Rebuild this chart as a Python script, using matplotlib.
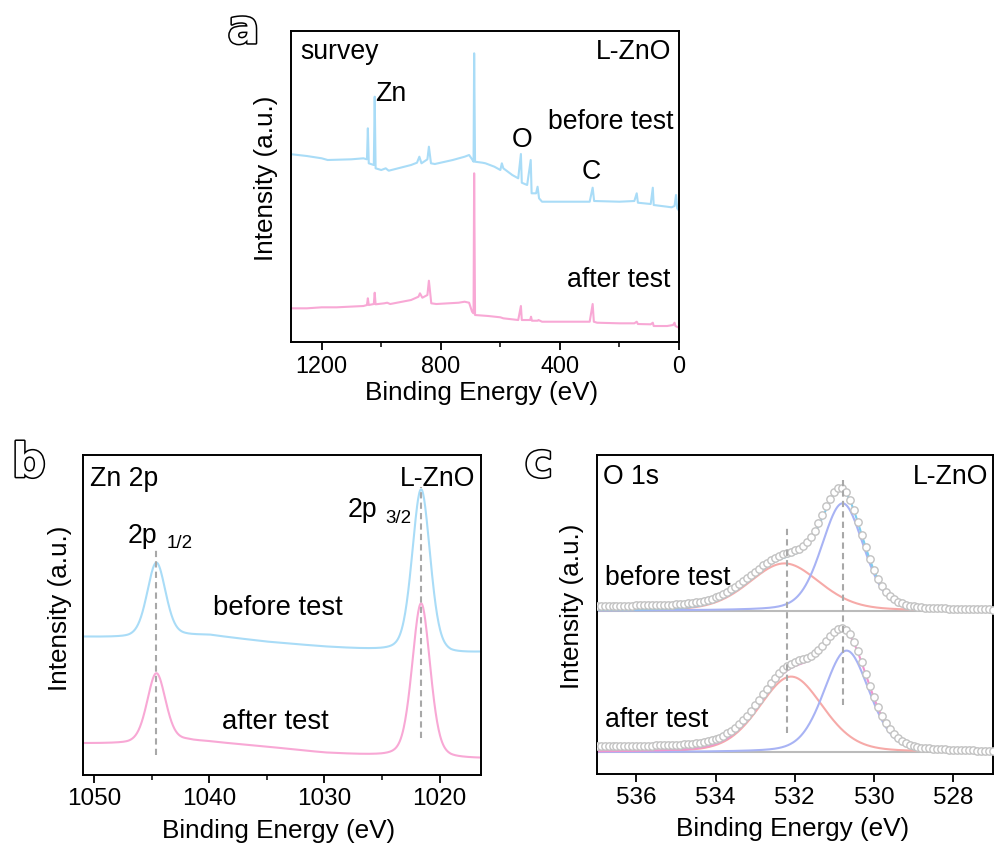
import numpy as np
import matplotlib
matplotlib.use("Agg")
import matplotlib.pyplot as plt
import matplotlib.patheffects as pe
from matplotlib.ticker import MultipleLocator

plt.rcParams["font.family"] = ["Liberation Sans", "DejaVu Sans"]

BLUE = "#a9dcf7"
PINK = "#f8a8d5"
FIT_RED = "#f6aaa8"
FIT_BLUE = "#a8b3f4"
ENV_BLUE = "#7fcdf0"
ENV_PINK = "#f096cf"
GUIDE = "#a8a8a8"

TICK_FS = 17.5
LABEL_FS = 18.8
NOTE_FS = 19.2

# ---- a: survey spectra (binding energy eV, intensity a.u.)
survey_before_energy = [1300, 1250, 1200, 1180, 1100, 1060, 1048, 1045, 1042, 1025, 1022, 1019,
                        1000, 985, 975, 900, 880, 872, 865, 845, 840, 833, 820, 760, 720, 705,
                        695, 690, 688, 685, 660, 650, 620, 600, 595, 590, 560, 540, 531, 528,
                        510, 498, 495, 480, 475, 470, 460, 300, 290, 285, 200, 150, 142, 138,
                        95, 88, 85, 40, 25, 15, 10, 6, 0]
survey_before_intensity = [187.7, 186.0, 183.7, 182.0, 182.7, 183.7, 182.7, 213.7, 178.7, 177.0,
                           245.3, 173.7, 172.0, 173.7, 171.3, 177.0, 179.3, 185.3, 178.7, 182.7,
                           195.3, 178.7, 178.0, 182.0, 185.3, 187.0, 182.7, 180.3, 288.7, 180.3,
                           179.3, 178.7, 175.3, 172.0, 178.7, 173.7, 167.0, 163.7, 188.0, 159.3,
                           157.0, 182.0, 148.7, 148.7, 155.3, 143.7, 140.3, 140.3, 154.3, 141.0,
                           140.3, 141.0, 148.7, 139.3, 138.0, 154.3, 137.0, 135.3, 134.7, 136.0,
                           147.0, 133.7, 131.3]
survey_after_energy = [1300, 1250, 1200, 1150, 1060, 1048, 1045, 1042, 1025, 1022, 1019, 990,
                       980, 970, 900, 875, 870, 862, 845, 840, 832, 815, 740, 720, 705, 695,
                       690, 688, 685, 640, 600, 590, 540, 531, 528, 500, 497, 494, 475, 472,
                       460, 300, 290, 286, 275, 200, 150, 142, 138, 95, 88, 85, 40, 20, 15,
                       12, 0]
survey_after_intensity = [33.7, 33.7, 34.7, 34.7, 36.0, 37.0, 43.7, 37.0, 38.0, 49.3, 37.7, 38.7,
                          39.3, 38.0, 42.0, 45.3, 48.7, 44.3, 47.0, 61.3, 38.7, 38.0, 39.3, 40.3,
                          39.3, 30.3, 28.7, 168.7, 27.0, 26.0, 24.7, 23.7, 22.0, 36.0, 22.0,
                          22.0, 25.3, 21.3, 21.3, 22.0, 20.3, 20.3, 38.0, 20.3, 19.3, 18.7, 18.7,
                          20.3, 18.0, 17.7, 19.3, 16.0, 16.0, 17.0, 19.3, 16.0, 14.3]

# ---- b: Zn 2p, peak parameters
zn_centers = [1044.6, 1021.6]
zn_fwhm = [1.9, 1.85]
zn_before_heights = [74.8, 163.7]
zn_after_heights = [69.7, 154.7]
zn_bg_energy = [1051, 1047, 1044.6, 1042, 1040, 1035, 1030, 1025, 1021.6, 1019, 1016.4]
zn_before_bg = [138, 137, 137.5, 139, 139.5, 133, 128, 124, 122, 120, 122]
zn_after_bg = [31.5, 31, 32, 34, 33, 28, 22, 18.5, 17, 15.5, 16]

# ---- c: O 1s fits (component centre, height, fwhm)
o_before_centers = [532.26, 530.79]
o_before_heights = [47.3, 107.4]
o_before_fwhm = [2.1, 1.25]
o_after_centers = [532.09, 530.69]
o_after_heights = [75.7, 101.7]
o_after_fwhm = [1.9, 1.35]
o_bg_energy = [537, 533, 532, 531, 530, 529, 527]
o_before_bg = [4, 4, 3.5, 2, 0.5, 0, 0]
o_after_bg = [5, 5, 4.5, 2.5, 0.7, 0, 0]
o_before_offset = 163.3
o_after_offset = 21.7


def pseudo_voigt(x, center, height, fwhm, eta=0.3):
    g = np.exp(-4 * np.log(2) * ((x - center) / fwhm) ** 2)
    l = 1.0 / (1.0 + (2 * (x - center) / fwhm) ** 2)
    return height * (eta * l + (1 - eta) * g)


def style_axes(ax):
    for s in ax.spines.values():
        s.set_linewidth(1.4)
    ax.set_yticks([])
    ax.tick_params(axis="x", which="major", direction="out", length=6, width=1.3,
                   labelsize=TICK_FS, pad=3.5, top=False)
    ax.tick_params(axis="x", which="minor", direction="out", length=3.5, width=1.1, top=False)


fig = plt.figure(figsize=(9.94, 8.47), dpi=100)
ax_a = fig.add_axes([0.2928, 0.5962, 0.3903, 0.3672])
ax_b = fig.add_axes([0.0832, 0.0850, 0.4007, 0.3778])
ax_c = fig.add_axes([0.6003, 0.0862, 0.3984, 0.3766])

# panel a
ax_a.plot(survey_before_energy, survey_before_intensity, color=BLUE, lw=1.5)
ax_a.plot(survey_after_energy, survey_after_intensity, color=PINK, lw=1.5)
ax_a.set_xlim(1303, 0)
ax_a.set_ylim(0, 311)
ax_a.xaxis.set_major_locator(MultipleLocator(400))
ax_a.xaxis.set_minor_locator(MultipleLocator(200))
style_axes(ax_a)
ax_a.tick_params(axis="x", labelsize=TICK_FS - 0.7)
ax_a.set_xlabel("Binding Energy (eV)", fontsize=LABEL_FS)
ax_a.set_ylabel("Intensity (a.u.)", fontsize=LABEL_FS)
ax_a.xaxis.set_label_coords(0.491, -0.125)
ax_a.yaxis.set_label_coords(-0.034, 0.526)
ax_a.text(0.023, 0.934, "survey", transform=ax_a.transAxes, fontsize=NOTE_FS, va="center", ha="left")
ax_a.text(0.98, 0.934, "L-ZnO", transform=ax_a.transAxes, fontsize=NOTE_FS, va="center", ha="right")
ax_a.text(1020, 248, "Zn", fontsize=NOTE_FS, va="center", ha="left")
ax_a.text(528, 202, "O", fontsize=NOTE_FS, va="center", ha="center")
ax_a.text(295, 170, "C", fontsize=NOTE_FS, va="center", ha="center")
ax_a.text(0.985, 0.708, "before test", transform=ax_a.transAxes, fontsize=NOTE_FS, va="center", ha="right")
ax_a.text(0.978, 0.199, "after test", transform=ax_a.transAxes, fontsize=NOTE_FS, va="center", ha="right")

# panel b
zn_x = np.linspace(1051, 1016.4, 800)
for heights, bg, color in [(zn_before_heights, zn_before_bg, BLUE),
                           (zn_after_heights, zn_after_bg, PINK)]:
    y = np.interp(zn_x[::-1], zn_bg_energy[::-1], bg[::-1])[::-1]
    for c, h, w in zip(zn_centers, heights, zn_fwhm):
        y = y + pseudo_voigt(zn_x, c, h, w)
    ax_b.plot(zn_x, y, color=color, lw=1.5)
ax_b.plot([zn_centers[0]] * 2, [20, 225], color=GUIDE, lw=1.5, dashes=(3, 2))
ax_b.plot([zn_centers[1]] * 2, [36.7, 288.3], color=GUIDE, lw=1.5, dashes=(3, 2))
ax_b.set_xlim(1051, 1016.4)
ax_b.set_ylim(0, 320)
ax_b.xaxis.set_major_locator(MultipleLocator(10))
ax_b.xaxis.set_minor_locator(MultipleLocator(5))
style_axes(ax_b)
ax_b.set_xlabel("Binding Energy (eV)", fontsize=LABEL_FS)
ax_b.set_ylabel("Intensity (a.u.)", fontsize=LABEL_FS)
ax_b.xaxis.set_label_coords(0.492, -0.136)
ax_b.yaxis.set_label_coords(-0.027, 0.52)
ax_b.text(0.018, 0.925, "Zn 2p", transform=ax_b.transAxes, fontsize=NOTE_FS, va="center", ha="left")
ax_b.text(0.985, 0.925, "L-ZnO", transform=ax_b.transAxes, fontsize=NOTE_FS, va="center", ha="right")
ax_b.text(1044.55, 231.7, "2p", fontsize=NOTE_FS, ha="right", va="baseline")
ax_b.text(1043.68, 226.7, "1/2", fontsize=13.5, ha="left", va="baseline")
ax_b.text(1025.44, 258.3, "2p", fontsize=NOTE_FS, ha="right", va="baseline")
ax_b.text(1024.72, 251.7, "3/2", fontsize=13.5, ha="left", va="baseline")
ax_b.text(1039.7, 167, "before test", fontsize=NOTE_FS + 0.6, ha="left", va="center")
ax_b.text(1038.9, 53, "after test", fontsize=NOTE_FS + 0.6, ha="left", va="center")

# panel c
o_x = np.arange(537.0, 526.95, -0.1)
o_line = np.linspace(537, 527, 600)
for offset, centers, heights, fwhm, bg, env in [
        (o_before_offset, o_before_centers, o_before_heights, o_before_fwhm, o_before_bg, ENV_BLUE),
        (o_after_offset, o_after_centers, o_after_heights, o_after_fwhm, o_after_bg, ENV_PINK)]:
    ax_c.plot([537, 527], [offset, offset], color="#bbbbbb", lw=1.5, zorder=1)
    comps = [pseudo_voigt(o_line, c, h, w, eta=0.25) for c, h, w in zip(centers, heights, fwhm)]
    ax_c.plot(o_line, offset + comps[0], color=FIT_RED, lw=1.5, zorder=2)
    ax_c.plot(o_line, offset + comps[1], color=FIT_BLUE, lw=1.5, zorder=2)
    ax_c.plot(o_line, offset + comps[0] + comps[1], color=env, lw=1.5, zorder=2)
    pts = offset + np.interp(o_x[::-1], o_bg_energy[::-1], bg[::-1])[::-1]
    for c, h, w in zip(centers, heights, fwhm):
        pts = pts + pseudo_voigt(o_x, c, h, w, eta=0.25)
    ax_c.plot(o_x, pts, ls="none", marker="o", ms=5.3, mfc="white", mec="#c2c2c2", mew=1.0,
              zorder=3, clip_on=True)
ax_c.plot([532.2, 532.2], [40.7, 247.3], color=GUIDE, lw=1.5, dashes=(3, 2), zorder=4)
ax_c.plot([530.77, 530.77], [69, 295.7], color=GUIDE, lw=1.5, dashes=(3, 2), zorder=4)
ax_c.set_xlim(537, 527)
ax_c.set_ylim(0, 319)
ax_c.xaxis.set_major_locator(MultipleLocator(2))
style_axes(ax_c)
ax_c.set_xlabel("Binding Energy (eV)", fontsize=LABEL_FS)
ax_c.set_ylabel("Intensity (a.u.)", fontsize=LABEL_FS)
ax_c.xaxis.set_label_coords(0.494, -0.134)
ax_c.yaxis.set_label_coords(-0.033, 0.527)
ax_c.text(0.016, 0.93, "O 1s", transform=ax_c.transAxes, fontsize=NOTE_FS, va="center", ha="left")
ax_c.text(0.99, 0.93, "L-ZnO", transform=ax_c.transAxes, fontsize=NOTE_FS, va="center", ha="right")
ax_c.text(0.02, 0.615, "before test", transform=ax_c.transAxes, fontsize=NOTE_FS, va="center", ha="left")
ax_c.text(0.02, 0.17, "after test", transform=ax_c.transAxes, fontsize=NOTE_FS, va="center", ha="left")

outline = [pe.withStroke(linewidth=2.2, foreground="black")]
for x, y, s in [(0.229, 0.949, "a"), (0.012, 0.437, "b"), (0.528, 0.437, "c")]:
    fig.text(x, y, s, fontsize=34, color="white", family="DejaVu Sans", weight="bold",
             ha="left", va="baseline", path_effects=outline)

fig.savefig("out.png", dpi=100)
